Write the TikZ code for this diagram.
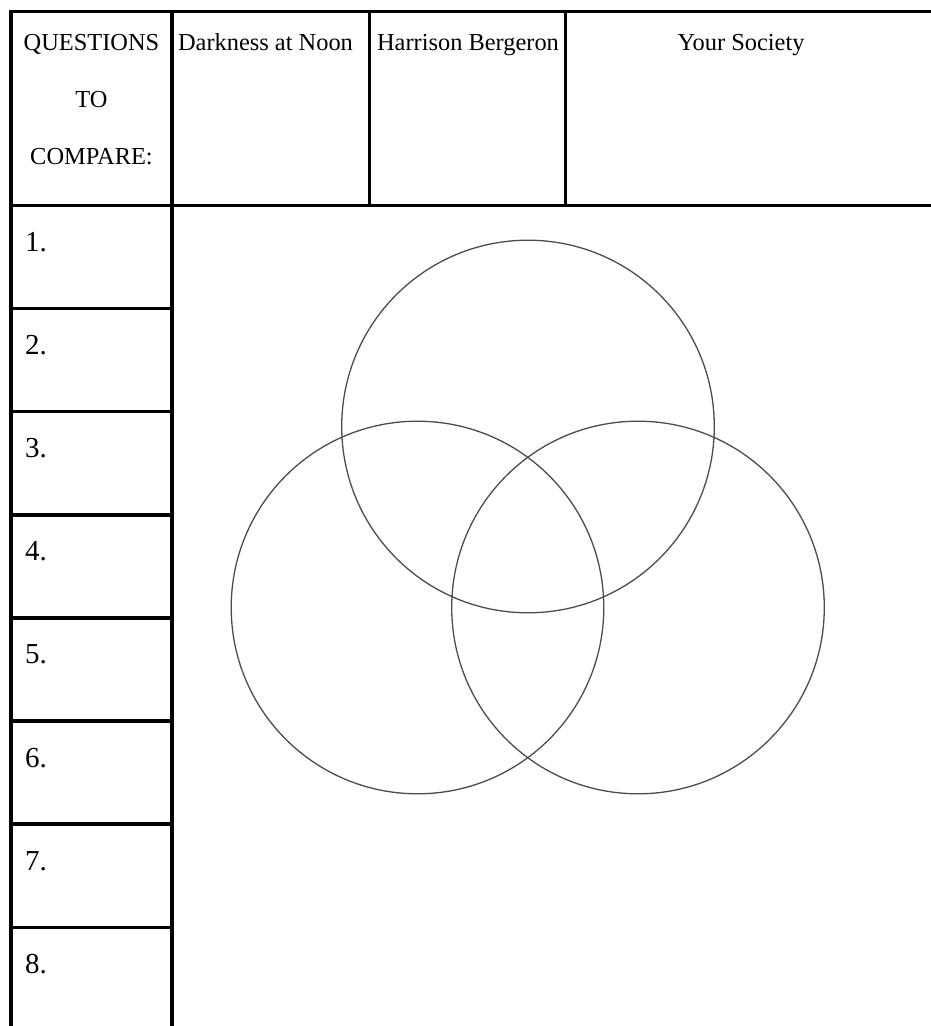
\documentclass[tikz,border=0pt]{standalone}
\usepackage{fontspec}
\setmainfont{Liberation Serif}
\begin{document}
\begin{tikzpicture}[x=1pt,y=-1pt,
  rule/.style={line width=3.4pt},
  ring/.style={draw=black!70, line width=1.3pt},
  head/.style={font=\fontsize{24.4}{24.4}\selectfont, inner sep=0pt, anchor=base},
  num/.style={font=\fontsize{29}{29}\selectfont, inner sep=0pt, anchor=base west}]
\useasboundingbox (0,0) rectangle (930,1026);
% table rules
\draw[rule] (931,11.5) -- (11,11.5) -- (11,1027);
\draw[rule] (11,205.5) -- (931,205.5);
\draw[rule] (172,11.5) -- (172,1027);
\draw[rule] (369.5,11.5) -- (369.5,205.5);
\draw[rule] (565.5,11.5) -- (565.5,205.5);
\foreach \k in {1,...,7} {
  \draw[rule] (11,205.5+103.1*\k) -- (172,205.5+103.1*\k);
}
% header texts
\node[head] (q1) at (91.5,50) {QUESTIONS};
\node[head] (q2) at (91.5,107) {TO};
\node[head] (q3) at (91.5,164) {COMPARE:};
\node[head] (h1) at (265.5,50) {Darkness at Noon};
\node[head] (h2) at (468,50) {Harrison Bergeron};
\node[head] (h3) at (741,50) {Your Society};
% numbers
\foreach \k in {1,...,8} {
  \node[num] (n\k) at (25,205.5+103.1*\k-103.1+46) {\k.};
}
% Venn circles
\draw[ring] (528,426.5) circle (186.3);
\draw[ring] (417.5,607.5) circle (186.3);
\draw[ring] (638,607.5) circle (186.3);
\end{tikzpicture}
\end{document}
